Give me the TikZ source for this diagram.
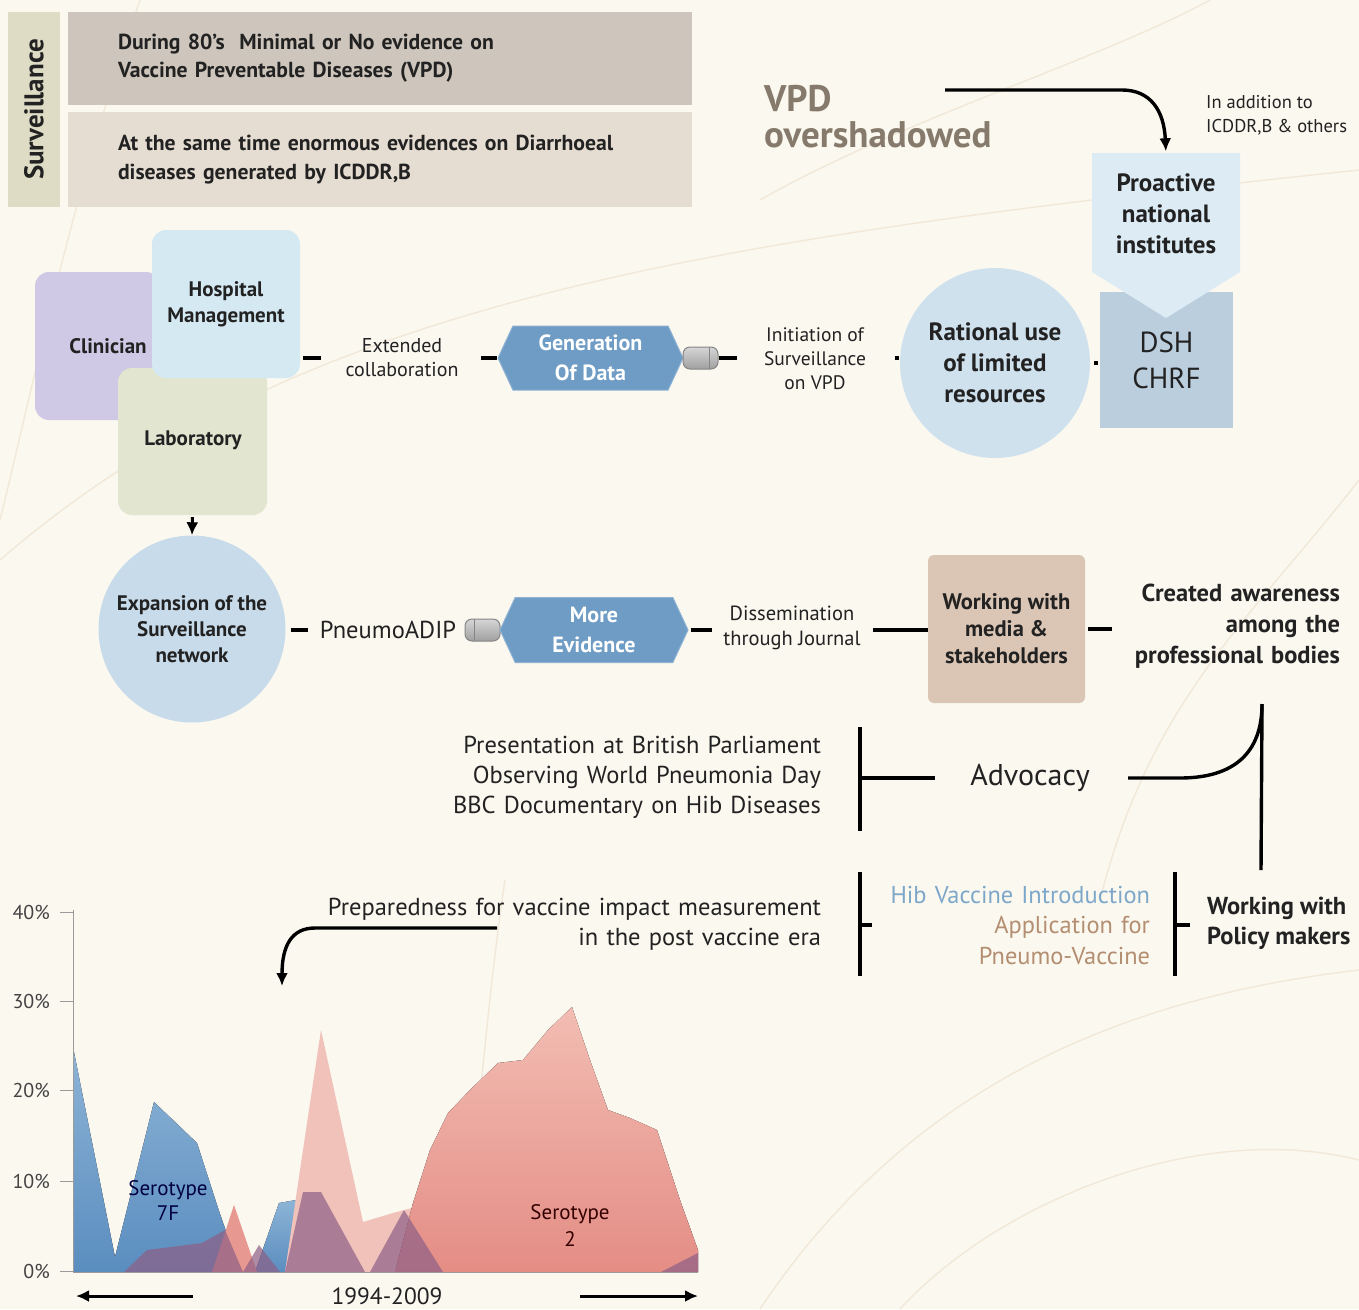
\documentclass[tikz,border=0pt]{standalone}
\usepackage{fontspec}
\setmainfont{PT Sans}
\usetikzlibrary{shapes.symbols,arrows.meta,calc}
\newcommand\fsz[2]{\fontsize{#1}{#2}\selectfont}
\definecolor{bgc}{HTML}{FBF8F0}
\definecolor{bgl}{HTML}{F1E8D8}
\definecolor{ink}{HTML}{222222}
\definecolor{survc}{HTML}{DFDCC6}
\definecolor{boxa}{HTML}{CEC6BC}
\definecolor{boxb}{HTML}{E6DDD2}
\definecolor{clinc}{HTML}{CFC9E5}
\definecolor{hospc}{HTML}{D5E9F3}
\definecolor{labc}{HTML}{E2E5D0}
\definecolor{expc}{HTML}{C8DBEA}
\definecolor{ratc}{HTML}{D0E1EE}
\definecolor{hexc}{HTML}{6E9CC4}
\definecolor{hexe}{HTML}{8DB2D3}
\definecolor{dshc}{HTML}{BBCEDE}
\definecolor{proc}{HTML}{DDEBF5}
\definecolor{medc}{HTML}{DBC6B5}
\definecolor{vpdc}{HTML}{857A6B}
\definecolor{hibc}{HTML}{7DA7C9}
\definecolor{appc}{HTML}{B38E70}
\definecolor{capd}{HTML}{858585}
\definecolor{capl}{HTML}{D6D6D6}
\definecolor{capm}{HTML}{A0A0A0}
\definecolor{chb1}{HTML}{8DB4D6}
\definecolor{chb2}{HTML}{5A8DBF}
\definecolor{chp1}{HTML}{F0C2BA}
\definecolor{chs1}{HTML}{F2BDB3}
\definecolor{chs2}{HTML}{E48D85}
\definecolor{chpu}{HTML}{8E5F86}
\definecolor{axc}{HTML}{9A9A9A}
\begin{document}
\begin{tikzpicture}[x=1pt,y=-1pt,
  txt/.style={inner sep=0pt, text=ink, align=center},
  dashln/.style={line width=3.4pt, draw=black},
  barln/.style={line width=3.4pt, draw=black},
  arr/.style={line width=3.4pt, draw=black, -{Latex[length=13pt,width=12pt]}},
  hexa/.style={signal, signal to=west and east, signal pointer angle=130, fill=hexc, draw=hexe, line width=1pt, minimum width=185pt, minimum height=64pt, inner sep=0pt, text=white, align=center, font=\bfseries\fsz{22}{30}},
  capsule/.style={rounded corners=7pt, draw=capd, line width=1pt, top color=capl, bottom color=capm, minimum width=35pt, minimum height=22pt, inner sep=0pt},
  bgline/.style={draw=bgl, line width=1.4pt},
  sqbox/.style={rounded corners=14pt, minimum width=148pt, minimum height=148pt, inner sep=0pt},
]
\useasboundingbox (0,0) rectangle (1359,1309);
\fill[bgc] (0,0) rectangle (1359,1309);
% faint background curves
\draw[bgline] (0,560) .. controls (300,300) and (700,240) .. (1359,170);
\draw[bgline] (140,0) .. controls (70,200) and (30,400) .. (0,520);
\draw[bgline] (760,200) .. controls (900,120) and (1100,60) .. (1210,0);
\draw[bgline] (760,1309) .. controls (900,1100) and (1100,1000) .. (1359,970);
\draw[bgline] (1359,1160) .. controls (1200,1120) and (1000,1200) .. (900,1309);
\draw[bgline] (470,1200) .. controls (480,1100) and (490,980) .. (505,880);
\draw[bgline] (1359,480) .. controls (1250,620) and (1150,700) .. (1100,900);

% ---- top boxes
\node[fill=survc, minimum width=52pt, minimum height=195pt, inner sep=0pt] (survbar) at (34,109.5) {};
\node[txt, rotate=90, font=\bfseries\fsz{27}{30}] (survtxt) at (survbar) {Surveillance};
\node[fill=boxa, minimum width=624pt, minimum height=93pt, inner xsep=50pt, inner ysep=0pt, text width=524pt, align=left, text=ink, font=\bfseries\fsz{21.7}{28}] (boxone) at (380,58.5) {During 80's\ \ Minimal or No evidence on\\Vaccine Preventable Diseases (VPD)};
\node[fill=boxb, minimum width=624pt, minimum height=95pt, inner xsep=50pt, inner ysep=0pt, text width=524pt, align=left, text=ink, font=\bfseries\fsz{21.7}{29}] (boxtwo) at (380,159.5) {At the same time enormous evidences on Diarrhoeal\\diseases generated by ICDDR,B};

% ---- VPD overshadowed
\node[txt, anchor=west, align=left, text=vpdc, font=\bfseries\fsz{37}{36}] (vpd) at (764,117) {VPD\\overshadowed};
\node[txt, anchor=west, align=left, font=\fsz{18.5}{24}] (addn) at (1206,115) {In addition to\\ICDDR,B \& others};

% ---- cluster
\node[sqbox, fill=clinc, minimum width=125pt] (clin) at (97.5,346) {};
\node[txt, font=\bfseries\fsz{21}{24}] (clintxt) at (108,346) {Clinician};
\node[sqbox, fill=labc, minimum width=149pt, minimum height=147pt] (lab) at (192.5,441.5) {};
\node[txt, font=\bfseries\fsz{21}{24}] (labtxt) at (193,440) {Laboratory};
\node[sqbox, fill=hospc, font=\bfseries\fsz{21}{26}, text=ink, align=center] (hosp) at (226,304) {Hospital\\Management};

% ---- row 1
\node[txt, font=\fsz{20}{24}] (ext) at (402,358) {Extended\\collaboration};
\node[hexa] (gen) at (590.5,358) {Generation\\Of Data};
\node[capsule, path picture={\draw[capd,line width=1pt] ([xshift=-9pt]path picture bounding box.north east) -- ([xshift=-9pt]path picture bounding box.south east);}] (capa) at (700.5,358) {};
\node[txt, font=\fsz{19.5}{24}] (init) at (815,359) {Initiation of\\Surveillance\\on VPD};
\node[circle, fill=ratc, minimum size=190pt, inner sep=0pt, text=ink, align=center, font=\bfseries\fsz{25}{31}] (rat) at (995,363) {Rational use\\of limited\\resources};
\node[fill=dshc, minimum width=133pt, minimum height=136pt, inner sep=0pt, text=ink, align=center, font=\fsz{29}{36}] (dsh) at (1166.5,360) {DSH\\CHRF};
\fill[proc] (1092,153) -- (1240,153) -- (1240,272) -- (1166,318) -- (1092,272) -- cycle;
\node[minimum width=148pt, minimum height=119pt, inner sep=0pt, text=ink, align=center, font=\bfseries\fsz{25}{31}] (pro) at (1166,214) {Proactive\\national\\institutes};

\coordinate (vpdarrow) at (945,90);
\draw[arr, shorten >=3pt] (vpdarrow) -- (1122,90) .. controls (1150,90) and (1164,110) .. (pro.north);

\draw[dashln, shorten <=3pt, shorten >=176pt] (hosp.east |- gen.west) -- (gen.west);
\draw[dashln, shorten <=181pt] (hosp.east |- gen.west) -- (gen.west);
\draw[dashln, shorten >=163pt] (capa.east) -- (capa.east -| rat.west);
\draw[dashln, shorten <=176pt, shorten >=1pt] (capa.east) -- (capa.east -| rat.west);
\draw[dashln, shorten <=4pt, shorten >=2pt] (rat.east) -- (rat.east -| dsh.west);

% ---- lab to expansion
\node[circle, fill=expc, minimum size=187pt, inner sep=0pt, text=ink, align=center, font=\bfseries\fsz{21}{26}] (exp) at (192,629) {Expansion of the\\Surveillance\\network};
\draw[arr, line width=3pt, shorten <=2pt] (lab.south) -- (exp.north);

% ---- row 2
\node[txt, font=\fsz{24.5}{26}] (padip) at (388,630) {PneumoADIP};
\node[capsule, path picture={\draw[capd,line width=1pt] ([xshift=9pt]path picture bounding box.north west) -- ([xshift=9pt]path picture bounding box.south west);}] (capb) at (482.5,630) {};
\node[hexa, minimum width=188pt, minimum height=65pt] (ev) at (594,630) {More\\Evidence};
\node[txt, font=\fsz{20.5}{25}] (diss) at (792,628) {Dissemination\\through Journal};
\node[rounded corners=6pt, fill=medc, minimum width=157pt, minimum height=148pt, inner sep=0pt, text=ink, align=center, font=\bfseries\fsz{22.5}{27}] (media) at (1006.5,629) {Working with\\media \&\\stakeholders};
\node[inner sep=0pt, text width=216pt, align=right, text=ink, font=\bfseries\fsz{24.5}{31}] (aware) at (1232,626) {Created awareness\\among the\\professional bodies};

\draw[dashln, shorten <=5pt, shorten >=157pt] (exp.east |- capb.west) -- (capb.west);
\draw[dashln, shorten <=2pt, shorten >=216pt] (ev.east) -- (ev.east -| media.west);
\draw[dashln, shorten <=184pt] (ev.east) -- (ev.east -| media.west);
\draw[dashln, shorten <=3pt, shorten >=12pt] (media.east) -- (media.east -| aware.west);

% ---- advocacy
\node[inner sep=0pt, text width=380pt, align=right, text=ink, font=\fsz{24.5}{30}] (advlist) at (631,777) {Presentation at British Parliament\\Observing World Pneumonia Day\\BBC Documentary on Hib Diseases};
\node[inner sep=0pt, minimum width=190pt, text=ink, font=\fsz{30}{30}] (adv) at (1030,778) {Advocacy};
\coordinate (baT) at (860,727);
\coordinate (baB) at (860,831);
\draw[barln] (baT) -- (baB);
\draw[barln] (baT |- adv.west) -- (adv.west);
\coordinate (cusp) at (1262,704);
\coordinate (cuspB) at (1261,870);
\draw[barln, shorten <=3pt] (adv.east) -- (1180,778) .. controls (1235,778) and (1262,752) .. (cusp);
\draw[barln] (cusp) -- (cuspB);

\node[inner sep=0pt, text width=520pt, align=right, text=ink, font=\fsz{24.5}{30}] (prep) at (561,924) {Preparedness for vaccine impact measurement\\in the post vaccine era};
\node[inner sep=0pt, text width=280pt, align=right, font=\fsz{24.4}{30.5}] (hib) at (1010,925) {\textcolor{hibc}{Hib Vaccine Introduction}\\\textcolor{appc}{Application for}\\\textcolor{appc}{Pneumo-Vaccine}};
\node[inner sep=0pt, anchor=west, align=left, text=ink, font=\bfseries\fsz{24.5}{30}] (pol) at (1207,923) {Working with\\Policy makers};
\coordinate (bbT) at (860,872);
\coordinate (bbB) at (860,976);
\coordinate (bbM) at (860,925);
\draw[barln] (bbT) -- (bbB);
\draw[barln, shorten >=-2pt] (bbM) -- (bbM -| hib.west);
\coordinate (bcT) at (1175,872);
\coordinate (bcB) at (1175,976);
\coordinate (bcM) at (1175,925);
\draw[barln] (bcT) -- (bcB);
\draw[barln, shorten >=17pt] (bcM) -- (bcM -| pol.west);
\coordinate (prepA) at (497,928);
\coordinate (prepB) at (282,986);
\draw[arr] (prepA) -- (315,928) .. controls (292,928) and (282,945) .. (prepB);

% ---- chart
\fill[top color=chb1, bottom color=chb2] (73,1272) -- (73,1047) -- (115,1257) -- (154,1102) -- (197,1143) -- (218,1208) -- (240,1272) -- cycle;
\fill[top color=chb1, bottom color=chb2] (255,1272) -- (279,1203) -- (296,1200) -- (302,1272) -- cycle;
\fill[chs2!80!chp1] (212,1272) -- (234,1205) -- (257,1272) -- cycle;
\fill[chp1] (285,1272) -- (300,1170) -- (321,1030) -- (363,1222) -- (393,1213) -- (412,1208) -- (420,1272) -- cycle;
\fill[top color=chs1, bottom color=chs2] (395,1272) -- (413,1203) -- (430,1150) -- (448,1113) -- (470,1090) -- (498,1063) -- (523,1060) -- (548,1030) -- (572,1007) -- (590,1060) -- (608,1110) -- (630,1118) -- (657,1130) -- (680,1200) -- (698,1250) -- (698,1272) -- cycle;
\begin{scope}[fill opacity=0.7]
\fill[chpu] (124,1272) -- (147,1250) -- (202,1243) -- (225,1230) -- (243,1272) -- cycle;
\fill[chpu] (243,1272) -- (259,1245) -- (280,1272) -- cycle;
\fill[chpu] (285,1272) -- (303,1192) -- (321,1192) -- (365,1272) -- cycle;
\fill[chpu] (370,1272) -- (404,1210) -- (443,1272) -- cycle;
\fill[chpu] (661,1272) -- (698,1253) -- (698,1272) -- cycle;
\end{scope}
\node[txt, text=black!75!blue, font=\fsz{21}{25}] (s7f) at (168,1201) {Serotype\\7F};
\node[txt, text=black!80!red, font=\fsz{21}{27}] (s2) at (570,1226) {Serotype\\2};
% axes
\coordinate (axTop) at (73,910);
\coordinate (axO) at (73,1272);
\coordinate (axR) at (698,1272);
\draw[axc, line width=1pt] (axTop) -- (axO) -- (axR);
\foreach \v/\yy in {40/912,30/1001,20/1090,10/1181,0/1271}{
  \draw[axc, line width=1pt] (60,\yy) -- (73,\yy);
  \node[txt, anchor=east, text=ink!85, font=\fsz{20}{22}] (lbl\v) at (50,\yy) {\v\%};
}
\node[txt, font=\fsz{23.5}{24}] (yrs) at (387,1296) {1994-2009};
\coordinate (laS) at (193,1296);
\coordinate (laE) at (76,1296);
\coordinate (raS) at (580,1296);
\coordinate (raE) at (698,1296);
\draw[arr, line width=3pt] (laS) -- (laE);
\draw[arr, line width=3pt] (raS) -- (raE);
\end{tikzpicture}
\end{document}
